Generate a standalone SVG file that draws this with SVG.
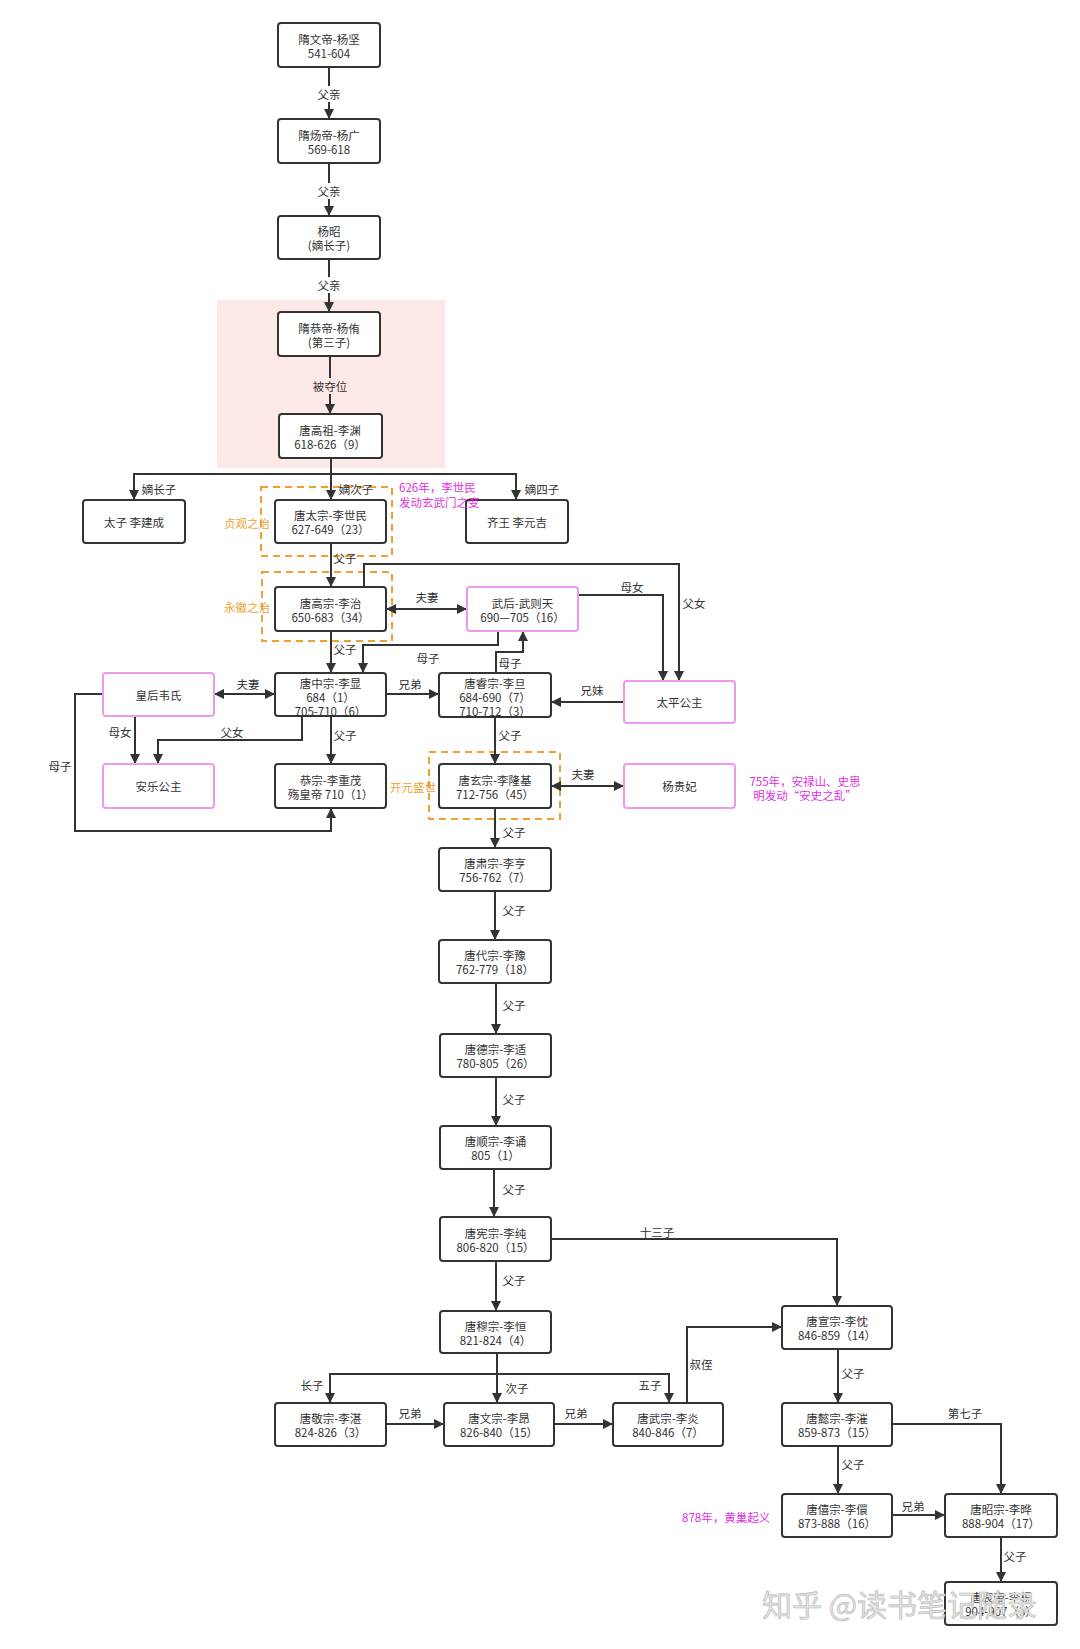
<svg xmlns="http://www.w3.org/2000/svg" width="1080" height="1649" viewBox="0 0 1080 1649">
<style>
text{font-family:"Noto Sans CJK SC","Liberation Sans",sans-serif;font-size:11.5px;fill:#333;}
.t{text-anchor:middle;dominant-baseline:central;}
.n rect.b{fill:#fff;stroke:#333;stroke-width:2;}
.n rect.p{fill:#fff;stroke:#ee99ee;stroke-width:2;}
.c path{fill:none;stroke:#333;stroke-width:2;}
.lab{dominant-baseline:central;text-anchor:middle;}
.dash{fill:none;stroke:#f0a030;stroke-width:2;stroke-dasharray:7 5;}
.or{fill:#f0a030;text-anchor:end;dominant-baseline:central;}
.mg{fill:#e030e0;dominant-baseline:central;}
.bg{fill:#fff;}
</style>
<defs>
<marker id="ah" viewBox="0 0 10 10" refX="10" refY="5" markerWidth="5" markerHeight="5" orient="auto-start-reverse" markerUnits="strokeWidth">
<path d="M0,0 L10,5 L0,10 Z" fill="#333"/>
</marker>
</defs>
<rect width="1080" height="1649" fill="#fff"/>
<!-- backgrounds -->
<rect x="217" y="300" width="228" height="168" fill="#fde8e8"/>
<rect class="dash" x="261" y="487" width="131" height="69"/>
<rect class="dash" x="262" y="572" width="130" height="69"/>
<rect class="dash" x="429" y="752" width="131" height="67"/>

<g class="c">
<path d="M329,67 V119" marker-end="url(#ah)"/>
<path d="M329,163 V216" marker-end="url(#ah)"/>
<path d="M329,259 V312" marker-end="url(#ah)"/>
<path d="M330,356 V414" marker-end="url(#ah)"/>
<path d="M331,458 V500" marker-end="url(#ah)"/>
<path d="M331,474 H134 V500" marker-end="url(#ah)"/>
<path d="M331,474 H516 V500" marker-end="url(#ah)"/>
<path d="M331,543 V587" marker-end="url(#ah)"/>
<path d="M331,631 V673" marker-end="url(#ah)"/>
<path d="M386,609 H467" marker-start="url(#ah)" marker-end="url(#ah)"/>
<path d="M364,587 V564 H679 V681" marker-end="url(#ah)"/>
<path d="M578,595 H663 V681" marker-end="url(#ah)"/>
<path d="M498,631 V645 H363 V673" marker-end="url(#ah)"/>
<path d="M496,673 V652 H523 V631" marker-end="url(#ah)"/>
<path d="M386,694 H439" marker-end="url(#ah)"/>
<path d="M624,702 H551" marker-end="url(#ah)"/>
<path d="M214,694 H275" marker-start="url(#ah)" marker-end="url(#ah)"/>
<path d="M135,716 V764" marker-end="url(#ah)"/>
<path d="M302,716 V740 H158 V764" marker-end="url(#ah)"/>
<path d="M331,716 V764" marker-end="url(#ah)"/>
<path d="M103,694 H75 V831 H331 V808" marker-end="url(#ah)"/>
<path d="M495,717 V764" marker-end="url(#ah)"/>
<path d="M551,786 H624" marker-start="url(#ah)" marker-end="url(#ah)"/>
<path d="M495,808 V848" marker-end="url(#ah)"/>
<path d="M495,891 V940" marker-end="url(#ah)"/>
<path d="M496,983 V1034" marker-end="url(#ah)"/>
<path d="M496,1077 V1126" marker-end="url(#ah)"/>
<path d="M494,1169 V1217" marker-end="url(#ah)"/>
<path d="M496,1261 V1311" marker-end="url(#ah)"/>
<path d="M551,1239 H837 V1306" marker-end="url(#ah)"/>
<path d="M497,1353 V1403" marker-end="url(#ah)"/>
<path d="M497,1374 H330 V1403" marker-end="url(#ah)"/>
<path d="M497,1374 H669 V1403" marker-end="url(#ah)"/>
<path d="M386,1424 H444" marker-end="url(#ah)"/>
<path d="M554,1424 H613" marker-end="url(#ah)"/>
<path d="M687,1403 V1327 H782" marker-end="url(#ah)"/>
<path d="M838,1349 V1403" marker-end="url(#ah)"/>
<path d="M892,1424 H1001 V1494" marker-end="url(#ah)"/>
<path d="M838,1446 V1494" marker-end="url(#ah)"/>
<path d="M892,1515 H945" marker-end="url(#ah)"/>
<path d="M1001,1537 V1582" marker-end="url(#ah)"/>
</g>

<g id="labels">
<rect class="bg" x="315" y="86" width="28" height="16"/>
<text class="lab" x="329" y="94">父亲</text>
<rect class="bg" x="315" y="183" width="28" height="16"/>
<text class="lab" x="329" y="191">父亲</text>
<rect class="bg" x="315" y="277" width="28" height="16"/>
<text class="lab" x="329" y="285">父亲</text>
<rect x="310" y="378" width="40" height="16" fill="#fde8e8"/>
<text class="lab" x="330" y="386">被夺位</text>
<text class="lab" x="159" y="489">嫡长子</text>
<text class="lab" x="356" y="489">嫡次子</text>
<text class="lab" x="542" y="489">嫡四子</text>
<text class="lab" x="345" y="558">父子</text>
<text class="lab" x="345" y="649">父子</text>
<text class="lab" x="427" y="597">夫妻</text>
<text class="lab" x="694" y="603">父女</text>
<text class="lab" x="632" y="587">母女</text>
<text class="lab" x="428" y="658">母子</text>
<text class="lab" x="510" y="663">母子</text>
<text class="lab" x="410" y="684">兄弟</text>
<text class="lab" x="592" y="690">兄妹</text>
<text class="lab" x="248" y="684">夫妻</text>
<text class="lab" x="120" y="732">母女</text>
<text class="lab" x="232" y="732">父女</text>
<text class="lab" x="345" y="735">父子</text>
<text class="lab" x="60" y="766">母子</text>
<text class="lab" x="510" y="735">父子</text>
<text class="lab" x="583" y="774">夫妻</text>
<text class="lab" x="514" y="832">父子</text>
<text class="lab" x="514" y="910">父子</text>
<text class="lab" x="514" y="1005">父子</text>
<text class="lab" x="514" y="1099">父子</text>
<text class="lab" x="514" y="1189">父子</text>
<text class="lab" x="514" y="1280">父子</text>
<text class="lab" x="657" y="1232">十三子</text>
<text class="lab" x="312" y="1385">长子</text>
<text class="lab" x="517" y="1388">次子</text>
<text class="lab" x="650" y="1385">五子</text>
<text class="lab" x="410" y="1413">兄弟</text>
<text class="lab" x="576" y="1413">兄弟</text>
<text class="lab" x="701" y="1364">叔侄</text>
<text class="lab" x="853" y="1373">父子</text>
<text class="lab" x="965" y="1413">第七子</text>
<text class="lab" x="853" y="1464">父子</text>
<text class="lab" x="913" y="1506">兄弟</text>
<text class="lab" x="1015" y="1556">父子</text>
</g>

<g id="n1" class="n"><rect class="b" x="278" y="23" width="102" height="44" rx="3"/><text class="t" x="329" y="38.5">隋文帝-杨坚</text><text class="t" x="329" y="52.5">541-604</text></g>
<g id="n2" class="n"><rect class="b" x="278" y="119" width="102" height="44" rx="3"/><text class="t" x="329" y="134.5">隋炀帝-杨广</text><text class="t" x="329" y="148.5">569-618</text></g>
<g id="n3" class="n"><rect class="b" x="278" y="216" width="102" height="43" rx="3"/><text class="t" x="329" y="231">杨昭</text><text class="t" x="329" y="245">(嫡长子)</text></g>
<g id="n4" class="n"><rect class="b" x="278" y="312" width="102" height="44" rx="3"/><text class="t" x="329" y="327.5">隋恭帝-杨侑</text><text class="t" x="329" y="341.5">(第三子)</text></g>
<g id="n5" class="n"><rect class="b" x="279" y="414" width="103" height="44" rx="3"/><text class="t" x="330" y="429.5">唐高祖-李渊</text><text class="t" x="330" y="443.5">618-626（9）</text></g>
<g id="n6" class="n"><rect class="b" x="83" y="500" width="102" height="43" rx="3"/><text class="t" x="134" y="521.5">太子 李建成</text></g>
<g id="n7" class="n"><rect class="b" x="275" y="500" width="111" height="43" rx="3"/><text class="t" x="330.5" y="515">唐太宗-李世民</text><text class="t" x="330.5" y="529">627-649（23）</text></g>
<g id="n8" class="n"><rect class="b" x="466" y="500" width="102" height="43" rx="3"/><text class="t" x="517" y="521.5">齐王 李元吉</text></g>
<g id="n9" class="n"><rect class="b" x="275" y="587" width="111" height="44" rx="3"/><text class="t" x="330.5" y="602.5">唐高宗-李治</text><text class="t" x="330.5" y="616.5">650-683（34）</text></g>
<g id="n10" class="n"><rect class="p" x="467" y="587" width="111" height="44" rx="3"/><text class="t" x="522.5" y="602.5">武后-武则天</text><text class="t" x="522.5" y="616.5">690—705（16）</text></g>
<g id="n11" class="n"><rect class="p" x="624" y="681" width="111" height="42" rx="3"/><text class="t" x="679.5" y="702">太平公主</text></g>
<g id="n12" class="n"><rect class="b" x="275" y="673" width="111" height="43" rx="3"/><text class="t" x="330.5" y="682.5">唐中宗-李显</text><text class="t" x="330.5" y="696.5">684（1）</text><text class="t" x="330.5" y="710.5">705-710（6）</text></g>
<g id="n13" class="n"><rect class="b" x="439" y="673" width="112" height="44" rx="3"/><text class="t" x="495" y="682.5">唐睿宗-李旦</text><text class="t" x="495" y="696.5">684-690（7）</text><text class="t" x="495" y="710.5">710-712（3）</text></g>
<g id="n14" class="n"><rect class="p" x="103" y="673" width="111" height="43" rx="3"/><text class="t" x="158.5" y="694.5">皇后韦氏</text></g>
<g id="n15" class="n"><rect class="p" x="103" y="764" width="111" height="44" rx="3"/><text class="t" x="158.5" y="786">安乐公主</text></g>
<g id="n16" class="n"><rect class="b" x="275" y="764" width="111" height="44" rx="3"/><text class="t" x="330.5" y="779.5">恭宗-李重茂</text><text class="t" x="330.5" y="793.5">殇皇帝 710（1）</text></g>
<g id="n17" class="n"><rect class="b" x="439" y="764" width="112" height="44" rx="3"/><text class="t" x="495" y="779.5">唐玄宗-李隆基</text><text class="t" x="495" y="793.5">712-756（45）</text></g>
<g id="n18" class="n"><rect class="p" x="624" y="764" width="111" height="44" rx="3"/><text class="t" x="679.5" y="786">杨贵妃</text></g>
<g id="n19" class="n"><rect class="b" x="439" y="848" width="112" height="43" rx="3"/><text class="t" x="495" y="863">唐肃宗-李亨</text><text class="t" x="495" y="877">756-762（7）</text></g>
<g id="n20" class="n"><rect class="b" x="439" y="940" width="112" height="43" rx="3"/><text class="t" x="495" y="955">唐代宗-李豫</text><text class="t" x="495" y="969">762-779（18）</text></g>
<g id="n21" class="n"><rect class="b" x="440" y="1034" width="111" height="43" rx="3"/><text class="t" x="495.5" y="1049">唐德宗-李适</text><text class="t" x="495.5" y="1063">780-805（26）</text></g>
<g id="n22" class="n"><rect class="b" x="440" y="1126" width="111" height="43" rx="3"/><text class="t" x="495.5" y="1141">唐顺宗-李诵</text><text class="t" x="495.5" y="1155">805（1）</text></g>
<g id="n23" class="n"><rect class="b" x="440" y="1217" width="111" height="44" rx="3"/><text class="t" x="495.5" y="1232.5">唐宪宗-李纯</text><text class="t" x="495.5" y="1246.5">806-820（15）</text></g>
<g id="n24" class="n"><rect class="b" x="440" y="1311" width="111" height="42" rx="3"/><text class="t" x="495.5" y="1325.5">唐穆宗-李恒</text><text class="t" x="495.5" y="1339.5">821-824（4）</text></g>
<g id="n25" class="n"><rect class="b" x="275" y="1403" width="111" height="43" rx="3"/><text class="t" x="330.5" y="1418">唐敬宗-李湛</text><text class="t" x="330.5" y="1432">824-826（3）</text></g>
<g id="n26" class="n"><rect class="b" x="444" y="1403" width="110" height="43" rx="3"/><text class="t" x="499" y="1418">唐文宗-李昂</text><text class="t" x="499" y="1432">826-840（15）</text></g>
<g id="n27" class="n"><rect class="b" x="613" y="1403" width="110" height="43" rx="3"/><text class="t" x="668" y="1418">唐武宗-李炎</text><text class="t" x="668" y="1432">840-846（7）</text></g>
<g id="n28" class="n"><rect class="b" x="782" y="1306" width="110" height="43" rx="3"/><text class="t" x="837" y="1321">唐宣宗-李忱</text><text class="t" x="837" y="1335">846-859（14）</text></g>
<g id="n29" class="n"><rect class="b" x="782" y="1403" width="110" height="43" rx="3"/><text class="t" x="837" y="1418">唐懿宗-李漼</text><text class="t" x="837" y="1432">859-873（15）</text></g>
<g id="n30" class="n"><rect class="b" x="782" y="1494" width="110" height="43" rx="3"/><text class="t" x="837" y="1509">唐僖宗-李儇</text><text class="t" x="837" y="1523">873-888（16）</text></g>
<g id="n31" class="n"><rect class="b" x="945" y="1494" width="112" height="43" rx="3"/><text class="t" x="1001" y="1509">唐昭宗-李晔</text><text class="t" x="1001" y="1523">888-904（17）</text></g>
<g id="n32" class="n"><rect class="b" x="945" y="1582" width="112" height="43" rx="3"/><text class="t" x="1001" y="1597">唐哀帝-李柷</text><text class="t" x="1001" y="1611">904-907（3）</text></g>

<g id="notes">
<text class="or" x="270" y="523">贞观之治</text>
<text class="or" x="270" y="607">永徽之治</text>
<text class="or" x="436" y="787">开元盛世</text>
<text class="mg" x="399" y="487">626年，李世民</text>
<text class="mg" x="399" y="502">发动玄武门之变</text>
<text class="mg" x="805" y="781" text-anchor="middle">755年，安禄山、史思</text>
<text class="mg" x="805" y="795" text-anchor="middle">明发动“安史之乱”</text>
<text class="mg" x="682" y="1517">878年，黄巢起义</text>
</g>

<text x="762" y="1616" style="font-size:30px;fill:#e2e2e2;stroke:#b8b8b8;stroke-width:0.6;">知乎 @读书笔记随录</text>
</svg>
